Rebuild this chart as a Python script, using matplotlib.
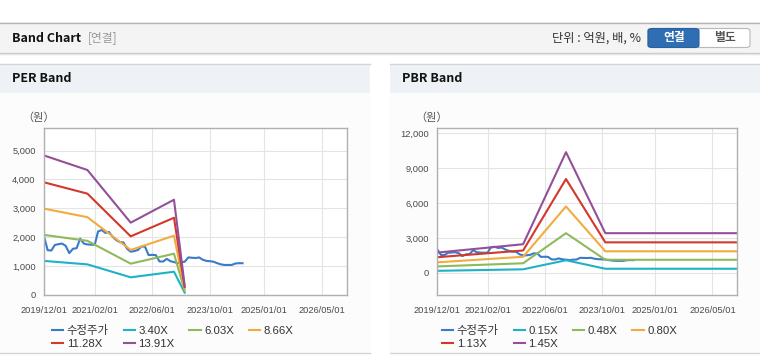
import matplotlib
matplotlib.use('Agg')
import matplotlib.pyplot as plt
from matplotlib.patches import Rectangle, FancyBboxPatch
from matplotlib.lines import Line2D
import pandas as pd

plt.rcParams['font.family'] = ['Liberation Sans', 'Noto Sans CJK KR']

# ---- data ----
price_start = '2019-12-01'
price = [2030, 1550, 1540, 1730, 1760, 1780, 1700, 1450, 1600, 1620,
         1950, 1780, 1750, 1740, 1740, 2200, 2250, 2150, 2180, 2020,
         1900, 1830, 1820, 1600, 1500, 1520, 1560, 1680, 1670, 1380,
         1390, 1380, 1160, 1160, 1250, 1170, 1140, 1100, 1140, 1150,
         1300, 1290, 1280, 1300, 1220, 1180, 1170, 1150, 1100, 1060,
         1040, 1040, 1040, 1090, 1100, 1100]

per_dates = ['2019-12-01', '2020-12-01', '2021-12-01', '2022-12-01', '2023-03-01']
per_labels = ['3.40X', '6.03X', '8.66X', '11.28X', '13.91X']
per_340 = [1180, 1060, 612, 806, 82]
per_603 = [2080, 1875, 1085, 1429, 145]
per_866 = [2990, 2693, 1559, 2052, 208]
per_1128 = [3900, 3508, 2030, 2673, 271]
per_1391 = [4830, 4326, 2504, 3297, 334]

pbr_dates = ['2019-12-01', '2021-12-01', '2022-12-01', '2023-11-01', '2026-12-01']
pbr_labels = ['0.15X', '0.48X', '0.80X', '1.13X', '1.45X']
pbr_015 = [180, 310, 1090, 360, 360]
pbr_048 = [560, 830, 3420, 1130, 1130]
pbr_080 = [910, 1390, 5720, 1860, 1860]
pbr_113 = [1350, 1930, 8080, 2630, 2630]
pbr_145 = [1750, 2470, 10390, 3420, 3420]

x_ticks = ['2019/12/01', '2021/02/01', '2022/06/01', '2023/10/01', '2025/01/01', '2026/05/01']

band_colors = ['#1fb2c6', '#8fba5b', '#f0ad3e', '#d2382c', '#935099']
price_color = '#3a7acb'

W, H = 760, 364
fig = plt.figure(figsize=(W / 100, H / 100), dpi=100, facecolor='white')


def fx(x):
    return x / W


def fy(y):
    return 1 - y / H


def box(x0, y0, x1, y1, **kw):
    fig.add_artist(Rectangle((fx(x0), fy(y1)), (x1 - x0) / W, (y1 - y0) / H,
                             transform=fig.transFigure, zorder=-5, **kw))


def hline(x0, x1, y, color, lw=1):
    fig.add_artist(Line2D([fx(x0), fx(x1)], [fy(y), fy(y)], color=color, lw=lw,
                          transform=fig.transFigure, zorder=-4))


# top bar
box(0, 22, 760, 53, fc='#f4f4f4', ec='none')
hline(0, 760, 22.5, '#b5b5b5')
hline(0, 760, 53, '#c8c8c8')
hline(0, 760, 54, '#e4e4e4')
fig.text(fx(12), fy(38), 'Band Chart', fontsize=9, fontweight='bold', color='#111',
         va='center', family=['Noto Sans CJK KR'])
fig.text(fx(88), fy(38), '[연결]', fontsize=8.5, color='#999', va='center',
         family=['Noto Sans CJK KR'])
fig.text(fx(641), fy(38), '단위 : 억원, 배, %', fontsize=8.8, color='#333', va='center',
         ha='right', family=['Noto Sans CJK KR'])
fig.add_artist(FancyBboxPatch((fx(648), fy(47.5)), 102 / W, 19 / H,
                              boxstyle='round,pad=0,rounding_size=0.006',
                              transform=fig.transFigure, fc='white', ec='#b8b8b8', lw=0.8))
fig.add_artist(FancyBboxPatch((fx(648), fy(47.5)), 51 / W, 19 / H,
                              boxstyle='round,pad=0,rounding_size=0.006',
                              transform=fig.transFigure, fc='#2f6eb2', ec='#2a62a0', lw=0.8))
fig.text(fx(674), fy(38), '연결', fontsize=8.5, fontweight='bold', color='white',
         ha='center', va='center', family=['Noto Sans CJK KR'])
fig.text(fx(725), fy(38), '별도', fontsize=8.5, fontweight='bold', color='#555',
         ha='center', va='center', family=['Noto Sans CJK KR'])

# panels
for px0, px1, title in [(0, 370, 'PER Band'), (390, 760, 'PBR Band')]:
    box(px0, 64, px1, 93, fc='#eef2f7', ec='none')
    box(px0, 93, px1, 353, fc='#fcfcfc', ec='none')
    hline(px0, px1, 64, '#d5d5d5')
    hline(px0, px1, 353, '#d5d5d5')
    fig.text(fx(px0 + 12), fy(79), title, fontsize=9, fontweight='bold', color='#111',
             va='center', family=['Noto Sans CJK KR'])

price_dates = pd.date_range(price_start, periods=len(price), freq='MS')
tick_dates = pd.to_datetime([t.replace('/', '-') for t in x_ticks])
xmin, xmax = pd.Timestamp('2019-12-01'), pd.Timestamp('2026-11-29')


def setup(ax, yticks, ylim):
    ax.set_zorder(5)
    ax.set_facecolor('white')
    ax.set_xlim(xmin, xmax)
    ax.set_ylim(*ylim)
    ax.set_xticks(tick_dates)
    ax.set_xticklabels(x_ticks)
    ax.set_yticks(yticks)
    ax.set_yticklabels([f'{v:,}' for v in yticks])
    ax.grid(True, color='#e4e4e4', lw=0.8)
    ax.set_axisbelow(True)
    ax.tick_params(length=0, labelsize=6.7, colors='#4a4a4a', pad=6)
    ax.tick_params(axis='x', pad=8)
    for s in ax.spines.values():
        s.set_color('#b0b0b0')
        s.set_linewidth(1)


def legend(ax, handles, labels, x, y):
    order = [0, 4, 1, 5, 2, 3]
    ax.legend([handles[i] for i in order], [labels[i] for i in order], ncol=4,
              loc='upper left', bbox_to_anchor=(fx(x), fy(y)), bbox_transform=fig.transFigure,
              frameon=False, fontsize=8.2, handlelength=1.0, handletextpad=0.3,
              columnspacing=1.3, borderpad=0, borderaxespad=0, labelspacing=0.3,
              labelcolor='#333')


# PER
ax1 = fig.add_axes([fx(44), fy(295), 303 / W, 167 / H])
setup(ax1, [0, 1000, 2000, 3000, 4000, 5000], (0, 5780))
hs = [ax1.plot(price_dates, price, color=price_color, lw=1.5)[0]]
for vals, c in zip([per_340, per_603, per_866, per_1128, per_1391], band_colors):
    hs.append(ax1.plot(pd.to_datetime(per_dates), vals, color=c, lw=1.5)[0])
fig.text(fx(39), fy(118), '（원）', fontsize=8, color='#555', ha='center', va='center')
legend(ax1, hs, ['수정주가'] + per_labels, 52, 325)

# PBR
ax2 = fig.add_axes([fx(437.3), fy(295), 300 / W, 167 / H])
setup(ax2, [0, 3000, 6000, 9000, 12000], (-1900, 12470))
hs = [ax2.plot(price_dates, price, color=price_color, lw=1.5)[0]]
for vals, c in zip([pbr_015, pbr_048, pbr_080, pbr_113, pbr_145], band_colors):
    hs.append(ax2.plot(pd.to_datetime(pbr_dates), vals, color=c, lw=1.5)[0])
fig.text(fx(432), fy(118), '（원）', fontsize=8, color='#555', ha='center', va='center')
legend(ax2, hs, ['수정주가'] + pbr_labels, 442, 325)

fig.savefig('out.png', dpi=100, facecolor='white')
